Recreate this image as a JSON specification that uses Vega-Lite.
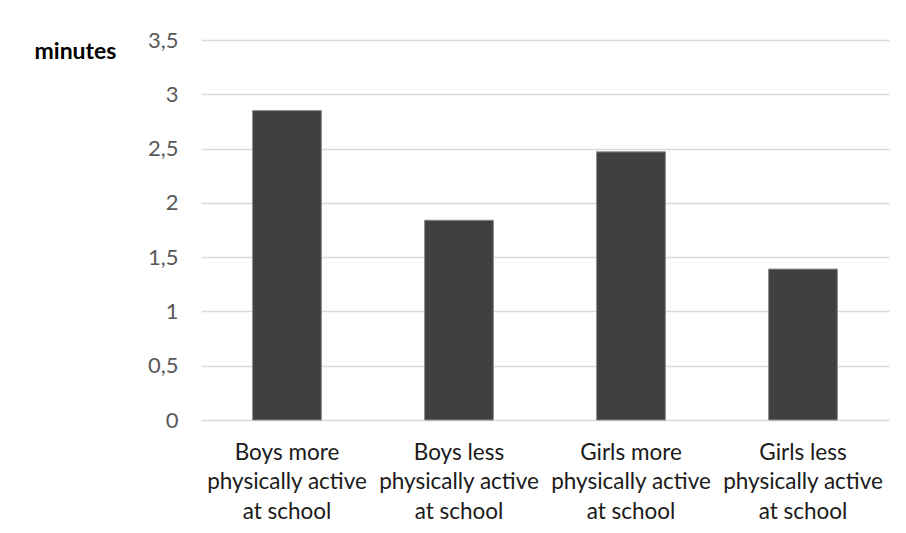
{
  "$schema": "https://vega.github.io/schema/vega-lite/v6.json",
  "autosize": "none",
  "width": 688,
  "height": 380,
  "padding": {"left": 201, "top": 40, "right": 17, "bottom": 113},
  "background": "white",
  "config": {
    "view": {"stroke": null},
    "font": "Lato"
  },
  "data": {
    "values": [
      {"group": "Boys more physically active at school", "minutes": 2.85},
      {"group": "Boys less physically active at school", "minutes": 1.84},
      {"group": "Girls more physically active at school", "minutes": 2.47},
      {"group": "Girls less physically active at school", "minutes": 1.39}
    ]
  },
  "mark": {"type": "bar", "fill": "#404040", "stroke": "#8c8c8c", "strokeWidth": 1},
  "encoding": {
    "x": {
      "field": "group",
      "type": "nominal",
      "sort": null,
      "scale": {"paddingInner": 0.6, "paddingOuter": 0.3},
      "axis": {
        "title": null,
        "domain": false,
        "ticks": false,
        "tickSize": 0,
        "labelAngle": 0,
        "labelPadding": 39,
        "labelBaseline": "alphabetic",
        "labelLineHeight": 29.5,
        "labelFont": "Lato",
        "labelFontSize": 22.5,
        "labelColor": "#1a1a1a",
        "labelLimit": 0,
        "labelExpr": "split(replace(replace(datum.value, ' physically', '|physically'), ' at school', '|at school'), '|')"
      }
    },
    "y": {
      "field": "minutes",
      "type": "quantitative",
      "scale": {"domain": [0, 3.5], "nice": false},
      "axis": {
        "title": "minutes",
        "titleAngle": 0,
        "titleX": -126,
        "titleY": 18,
        "titleAlign": "center",
        "titleBaseline": "alphabetic",
        "titleFont": "Lato",
        "titleFontSize": 23,
        "titleFontWeight": "bold",
        "titleColor": "#000000",
        "values": [0, 0.5, 1, 1.5, 2, 2.5, 3, 3.5],
        "labelExpr": "replace(toString(datum.value), '.', ',')",
        "domain": false,
        "ticks": false,
        "tickSize": 0,
        "labelPadding": 23,
        "labelFont": "Lato",
        "labelFontSize": 22,
        "labelColor": "#595959",
        "grid": true,
        "gridColor": "#d9d9d9",
        "gridWidth": 1.5
      }
    }
  }
}
